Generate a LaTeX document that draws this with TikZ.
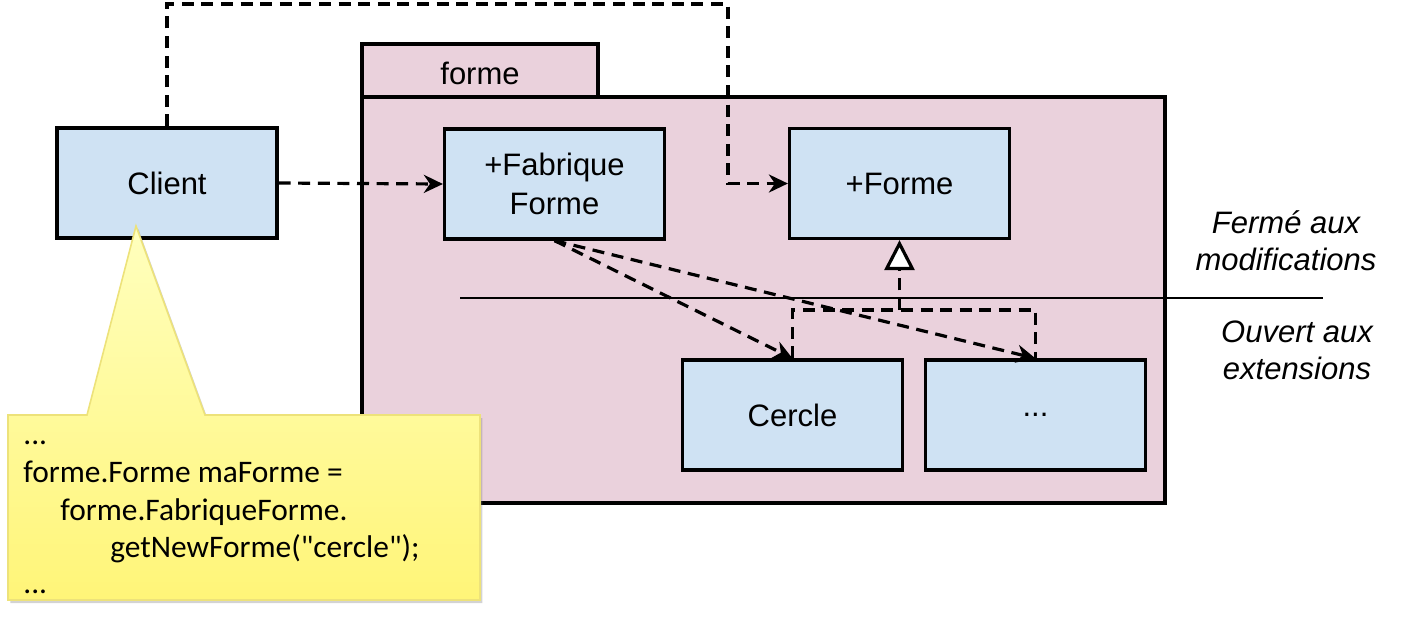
\documentclass[tikz,border=0pt]{standalone}
\usepackage{fontspec}
\setmainfont{Liberation Sans}
\newfontfamily\calfont{Carlito}
\usetikzlibrary{arrows.meta,shadows}
\definecolor{boxblue}{HTML}{CFE2F3}
\definecolor{pkgpink}{HTML}{EAD1DC}
\definecolor{noteTop}{HTML}{FFFFBE}
\definecolor{noteBot}{HTML}{FFF578}
\definecolor{noteEdge}{HTML}{EDE27A}
\begin{document}
\begin{tikzpicture}[x=0.5pt,y=-0.5pt,
  cls/.style={draw=black,line width=1.6pt,fill=boxblue,rectangle,minimum width=110pt,minimum height=55pt,inner sep=0pt,font=\fontsize{15.5}{19.5}\selectfont,align=center},
  pkg/.style={draw=black,line width=1.6pt,fill=pkgpink,rectangle,inner sep=0pt},
  dep/.style={line width=1.6pt,dash pattern=on 6pt off 3.8pt,-{Stealth[length=9.5pt,width=9pt,inset=3pt]}},
  dline/.style={line width=1.6pt,dash pattern=on 6pt off 3.8pt},
  inh/.style={line width=1.6pt,dash pattern=on 6pt off 3.8pt,-{Triangle[open,length=15pt,width=15pt,line width=1.6pt,fill=white]}},
  note/.style={font=\calfont\fontsize{15.7}{15.7}\selectfont,anchor=base west,inner sep=0pt},
  side/.style={font=\itshape\fontsize{15.5}{18.5}\selectfont,align=center,inner sep=0pt}]
\useasboundingbox (0,0) rectangle (1408,617);
% package
\node[pkg,minimum width=118pt,minimum height=26.5pt] (tab) at (480,70.5) {};
\node[font=\fontsize{15.5}{15.5}\selectfont] (tabtxt) at (480,73) {forme};
\node[pkg,minimum width=401.5pt,minimum height=203pt] (body) at (763.5,300) {};
% classes
\node[cls] (client) at (167,183) {Client};
\node[cls] (fab) at (554.5,184) {+Fabrique\\Forme};
\node[cls] (forme) at (899.5,183.5) {+Forme};
\node[cls] (cercle) at (792.5,415) {Cercle};
\node[cls] (dots) at (1035.5,415) {...};
% separator line
\coordinate (sepL) at (460,298);
\coordinate (sepR) at (1323,298);
\draw[line width=1.2pt] (sepL) -- (sepR);
% side labels
\node[side] (ferme) at (1286,241) {Ferm\'e aux\\modifications};
\node[side] (ouvert) at (1297,350) {Ouvert aux\\extensions};
% connectors
\coordinate (top) at (728,4);
\draw[dep] (client.north) |- (top) -- (top |- forme.west) -- (forme.west);
\draw[dep] (client.east) -- (fab.west);
\draw[dep] (fab.south) -- (cercle.north);
\draw[dep] (fab.south) -- (dots.north);
\coordinate (junc) at (899.5,310);
\draw[dline] (cercle.north) |- (junc) -| (dots.north);
\draw[inh] (junc) -- (forme.south);
% callout
\coordinate (tip) at (136,226);
\path[draw=noteEdge,line width=0.8pt,top color=noteTop,bottom color=noteBot,
  drop shadow={opacity=0.35,shadow xshift=1.2pt,shadow yshift=-1.5pt}]
  (8,415) -- (87,415) -- (tip) -- (205,415) -- (480,415) -- (480,600) -- (8,600) -- cycle;
\node[note] (l1) at (23,444) {...};
\node[note] (l2) at (23,482) {forme.Forme maForme =};
\node[note] (l3) at (60,520) {forme.FabriqueForme.};
\node[note] (l4) at (110,557) {getNewForme("cercle");};
\node[note] (l5) at (23,593) {...};
\end{tikzpicture}
\end{document}
